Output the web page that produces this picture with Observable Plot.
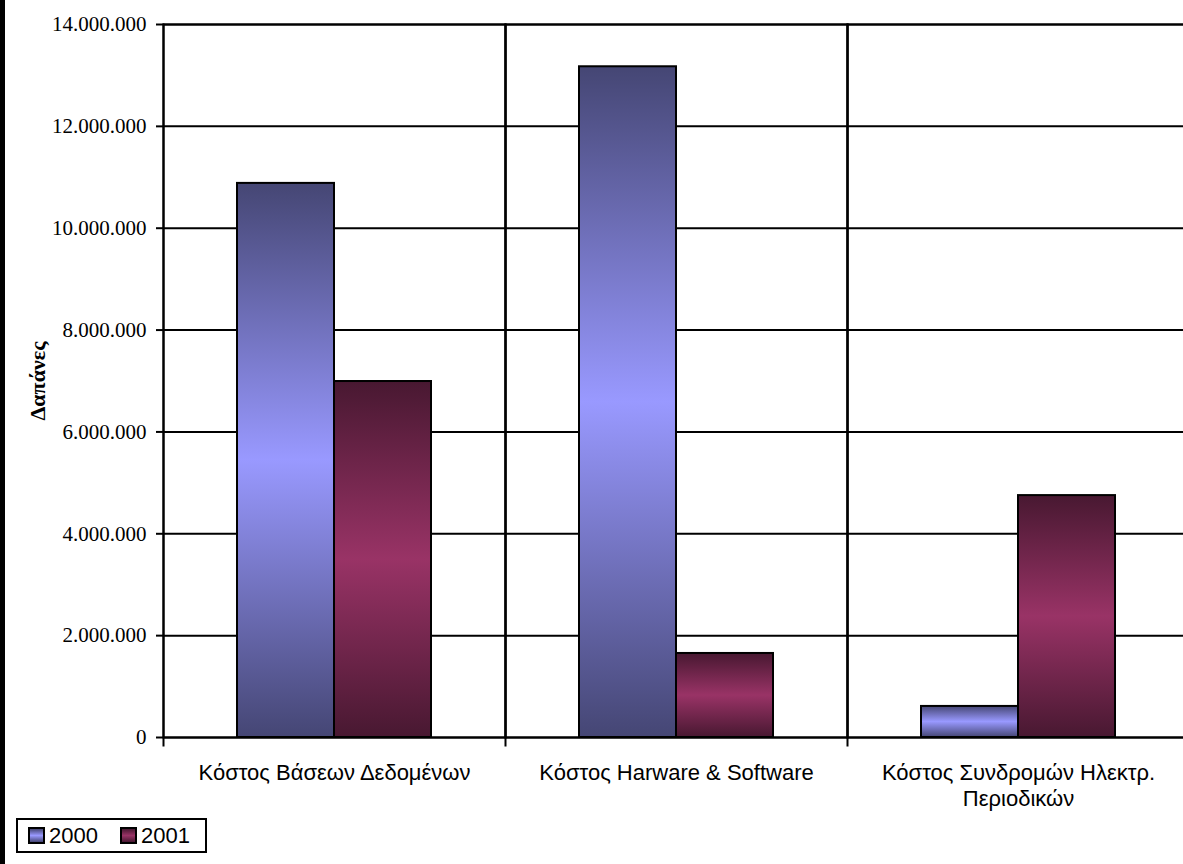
<!DOCTYPE html>
<html>
<head>
<meta charset="utf-8">
<script src="https://cdn.jsdelivr.net/npm/d3@7"></script>
<script src="https://cdn.jsdelivr.net/npm/@observablehq/plot@0.6"></script>
<style>
  html, body { margin: 0; padding: 0; background: white; }
  #wrap { position: relative; width: 1183px; height: 864px; overflow: hidden; background: white; }
  #leftbar { position: absolute; left: 0; top: 0; width: 5px; height: 864px; background: black; z-index: 2; }
  #chart { position: absolute; left: 0; top: 0; }
  #chart svg { max-width: none; }
  #legend { position: absolute; left: 16px; top: 818px; height: 31px; border: 2px solid black; padding: 0 15px 0 10px;
            font-family: "Liberation Sans", Arial, sans-serif; font-size: 22px; display: flex; align-items: center; background: white; }
  #legend .sw { display: inline-block; width: 13px; height: 13px; border: 2px solid black; margin-right: 4px; }
  #legend .item { display: flex; align-items: center; margin-right: 22px; }
  #legend .item:last-child { margin-right: 0; }
</style>
</head>
<body>
<div id="wrap">
  <div id="leftbar"></div>
  <div id="chart"></div>
  <div id="legend"></div>
</div>
<script>
// ---- data ----
const categories = ["Κόστος Βάσεων Δεδομένων", "Κόστος Harware & Software", "Κόστος Συνδρομών Ηλεκτρ. Περιοδικών"];
const categoryLabels = ["Κόστος Βάσεων Δεδομένων", "Κόστος Harware & Software", "Κόστος Συνδρομών Ηλεκτρ.\nΠεριοδικών"];
const years = ["2000", "2001"];
const values2000 = [10880000, 13170000, 610000];
const values2001 = [6990000, 1650000, 4750000];
const yTicks = [0, 2000000, 4000000, 6000000, 8000000, 10000000, 12000000, 14000000];
const yTitle = "Δαπάνες";
const gradDark = {"2000": "#454674", "2001": "#481831"};
const gradLight = {"2000": "#9999ff", "2001": "#993366"};

const rows = [];
categories.forEach((c, i) => {
  rows.push({cat: c, year: years[0], value: values2000[i]});
  rows.push({cat: c, year: years[1], value: values2001[i]});
});

const fmt = d3.formatLocale({decimal: ",", thousands: ".", grouping: [3], currency: ["", ""]}).format(",.0f");

const plot = Plot.plot({
  width: 1189,
  height: 812,
  marginLeft: 163,
  marginRight: 0,
  marginTop: 24,
  marginBottom: 75,
  style: {background: "white", maxWidth: "none", fontFamily: "Liberation Sans, Arial, sans-serif"},
  fx: {domain: categories, padding: 0, axis: null},
  x: {domain: years, paddingInner: 0, paddingOuter: 0.745, axis: null},
  y: {domain: [0, 14000000], axis: null},
  color: {domain: years, range: years.map(y => `url(#grad${y})`)},
  marks: [
    Plot.gridY(yTicks, {stroke: "black", strokeOpacity: 1, strokeWidth: 2}),
    Plot.frame({stroke: "black", strokeWidth: 2}),
    Plot.frame({anchor: "left", stroke: "black", strokeWidth: 2, insetBottom: -8}),
    Plot.barY(rows, {fx: "cat", x: "year", y: "value", fill: "year", stroke: "black", strokeWidth: 2}),
    Plot.axisY({
      ticks: yTicks, tickFormat: fmt, tickSize: 7, tickPadding: 10,
      fontSize: 21, fontFamily: "Liberation Serif, Times New Roman, serif",
      stroke: "black", strokeWidth: 2, fill: "black",
      label: yTitle, labelAnchor: "center", labelArrow: "none", labelOffset: 134
    }),
    Plot.axisFx({
      anchor: "bottom", tickSize: 0, tickPadding: 24, label: null,
      fontSize: 22, fontFamily: "Liberation Sans, Arial, sans-serif", lineHeight: 1.18, fill: "black",
      tickFormat: c => categoryLabels[categories.indexOf(c)]
    })
  ]
});

// style the y-axis title (bold serif)
d3.select(plot).selectAll("text").filter(function () { return this.textContent === yTitle; })
  .each(function () {
    const t = d3.select(this);
    t.attr("font-size", 22).attr("font-weight", "bold")
     .style("font-size", "22px").style("font-weight", "bold")
     .style("font-family", "'Liberation Serif', 'Times New Roman', serif");
    const p = d3.select(this.parentNode);
    p.attr("font-size", null).attr("font-family", null);
  });

// gradient definitions
const defs = d3.select(plot).insert("defs", ":first-child");
years.forEach(y => {
  const g = defs.append("linearGradient").attr("id", `grad${y}`).attr("x1", 0).attr("y1", 0).attr("x2", 0).attr("y2", 1);
  g.append("stop").attr("offset", "0%").attr("stop-color", gradDark[y]);
  g.append("stop").attr("offset", "50%").attr("stop-color", gradLight[y]);
  g.append("stop").attr("offset", "100%").attr("stop-color", gradDark[y]);
});

document.getElementById("chart").appendChild(plot);

// legend
const legend = document.getElementById("legend");
years.forEach(y => {
  const item = document.createElement("span");
  item.className = "item";
  const sw = document.createElement("span");
  sw.className = "sw";
  sw.style.background = `linear-gradient(to bottom, ${gradDark[y]}, ${gradLight[y]} 50%, ${gradDark[y]})`;
  item.appendChild(sw);
  item.appendChild(document.createTextNode(y));
  legend.appendChild(item);
});
</script>
</body>
</html>
